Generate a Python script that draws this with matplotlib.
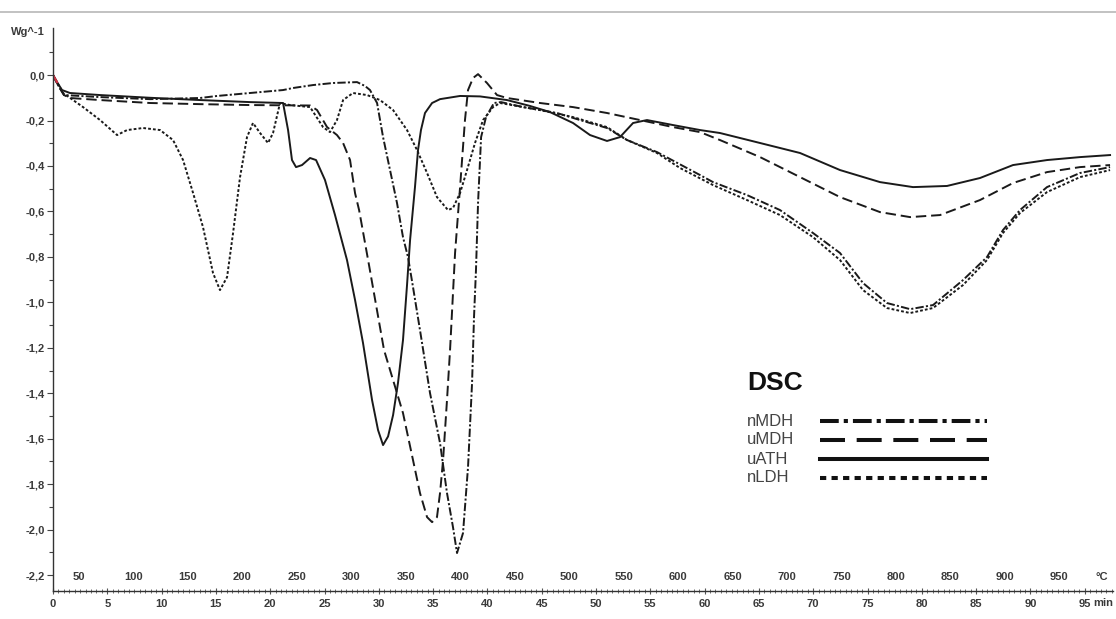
import matplotlib.pyplot as plt
import numpy as np
from matplotlib.lines import Line2D

plt.rcParams['font.family'] = ['Liberation Sans', 'DejaVu Sans']
plt.rcParams['lines.scale_dashes'] = False

# DSC curves, temperature in degC, heat flow in W/g
nmdh_T = [26.1, 30.7, 36.2, 69.3, 115.2, 161.1, 176.7, 207.0, 237.3, 246.5,
          264.8, 283.2, 305.2, 312.5, 317.1, 323.6, 329.1, 335.5, 341.9, 347.4,
          352.0, 356.6, 363.0, 372.2, 381.4, 387.8, 393.3, 397.0, 402.5, 407.1,
          410.8, 412.6, 414.4, 416.3, 419.1, 423.6, 430.9, 437.4, 457.6, 488.8,
          509.9, 534.7, 553.1, 580.6, 620.1, 632.0, 663.2, 693.5, 723.8, 748.6,
          769.7, 791.7, 812.9, 834.0, 861.5, 883.5, 898.2, 913.8, 938.6, 968.9,
          996.5]
nmdh_v = [0.0, -0.044, -0.088, -0.097, -0.106, -0.101, -0.092, -0.079, -0.066, -0.057,
          -0.044, -0.035, -0.031, -0.048, -0.066, -0.123, -0.273, -0.418, -0.563, -0.713,
          -0.801, -0.933, -1.122, -1.399, -1.619, -1.839, -1.989, -2.103, -2.015, -1.725,
          -1.355, -1.065, -0.858, -0.563, -0.273, -0.185, -0.123, -0.119, -0.141, -0.167,
          -0.198, -0.233, -0.286, -0.339, -0.440, -0.471, -0.528, -0.594, -0.695, -0.783,
          -0.915, -1.003, -1.030, -1.012, -0.902, -0.801, -0.682, -0.594, -0.493, -0.431,
          -0.405]

umdh_T = [26.1, 30.7, 36.2, 41.7, 69.3, 115.2, 161.1, 207.0, 262.1, 268.5,
          277.7, 286.8, 292.4, 298.8, 303.4, 307.1, 316.2, 330.0, 338.3, 347.4,
          356.6, 363.0, 369.5, 374.1, 378.6, 381.4, 384.2, 387.8, 390.6, 395.2,
          399.8, 404.3, 407.1, 411.7, 416.3, 424.5, 433.7, 442.9, 473.2, 503.5,
          534.7, 565.0, 595.3, 620.1, 638.4, 675.2, 711.9, 748.6, 785.3, 812.9,
          840.4, 877.1, 907.4, 938.6, 968.9, 996.5]
umdh_v = [0.0, -0.044, -0.088, -0.101, -0.110, -0.123, -0.128, -0.132, -0.134, -0.154,
          -0.229, -0.264, -0.299, -0.374, -0.520, -0.594, -0.836, -1.210, -1.342, -1.487,
          -1.694, -1.839, -1.945, -1.967, -1.945, -1.839, -1.694, -1.430, -1.210, -0.783,
          -0.493, -0.198, -0.066, -0.013, 0.004, -0.035, -0.088, -0.101, -0.123, -0.141,
          -0.167, -0.198, -0.229, -0.251, -0.286, -0.361, -0.449, -0.537, -0.603, -0.625,
          -0.616, -0.550, -0.475, -0.427, -0.405, -0.396]

ath_T = [26.1, 29.8, 34.4, 41.7, 69.3, 115.2, 161.1, 207.0, 237.3, 241.9,
         245.5, 249.2, 254.7, 262.1, 267.6, 275.8, 285.0, 296.0, 303.4, 310.7,
         319.0, 324.5, 329.1, 333.7, 338.3, 342.8, 347.4, 351.1, 353.9, 358.4,
         361.2, 363.9, 367.6, 374.1, 381.4, 399.8, 418.1, 442.9, 464.0, 482.4,
         503.5, 519.1, 534.7, 546.6, 558.6, 571.4, 595.3, 620.1, 638.4, 675.2,
         711.9, 748.6, 785.3, 815.6, 846.8, 877.1, 907.4, 938.6, 968.9, 996.5]
ath_v = [0.0, -0.031, -0.066, -0.079, -0.088, -0.100, -0.110, -0.119, -0.123, -0.242,
         -0.374, -0.405, -0.396, -0.365, -0.374, -0.462, -0.616, -0.814, -0.990, -1.179,
         -1.430, -1.562, -1.628, -1.590, -1.496, -1.355, -1.166, -0.924, -0.726, -0.493,
         -0.330, -0.242, -0.167, -0.123, -0.106, -0.092, -0.094, -0.110, -0.136, -0.163,
         -0.211, -0.264, -0.290, -0.273, -0.211, -0.198, -0.220, -0.242, -0.255, -0.299,
         -0.343, -0.418, -0.471, -0.493, -0.488, -0.453, -0.396, -0.374, -0.361, -0.352]

nldh_T = [26.1, 35.3, 53.7, 69.3, 84.9, 94.1, 108.8, 124.4, 136.3, 145.5,
          154.7, 163.8, 173.0, 179.4, 185.9, 191.4, 197.8, 204.2, 209.7, 216.2,
          223.5, 228.1, 234.5, 243.7, 262.1, 274.0, 280.4, 286.8, 292.4, 301.5,
          314.4, 326.3, 338.3, 351.1, 360.3, 369.5, 378.6, 388.7, 393.3, 399.8,
          406.2, 413.5, 420.9, 430.1, 436.5, 473.2, 503.5, 534.7, 553.1, 580.6,
          601.7, 632.0, 663.2, 693.5, 723.8, 748.6, 769.7, 791.7, 812.9, 834.0,
          861.5, 883.5, 898.2, 913.8, 938.6, 968.9, 996.5]
nldh_v = [0.0, -0.079, -0.141, -0.198, -0.264, -0.242, -0.233, -0.242, -0.286, -0.374,
          -0.519, -0.669, -0.871, -0.946, -0.889, -0.695, -0.449, -0.273, -0.211, -0.255,
          -0.299, -0.255, -0.123, -0.132, -0.141, -0.229, -0.251, -0.198, -0.110, -0.079,
          -0.088, -0.110, -0.154, -0.242, -0.330, -0.431, -0.537, -0.594, -0.585, -0.519,
          -0.418, -0.299, -0.198, -0.141, -0.123, -0.154, -0.185, -0.229, -0.286, -0.343,
          -0.409, -0.484, -0.550, -0.616, -0.713, -0.814, -0.946, -1.025, -1.047, -1.025,
          -0.924, -0.814, -0.695, -0.607, -0.515, -0.449, -0.418]

names = ['nMDH', 'uMDH', 'uATH', 'nLDH']
minutes = list(range(0, 100, 5))
temp_labels = list(range(50, 1000, 50))
y_ticks = [round(-0.2 * i, 1) for i in range(12)]
T_START = 26.1   # degC at t = 0
RATE = 9.97      # degC per min

curve_dashes = [(0, (6, 1.6, 1.5, 1.6)), (0, (7.5, 3.5)), '-', (0, (2, 1.5))]
legend_dashes = [(0, (13.5, 3.6, 3, 3.6)), (0, (18, 8.4)), '-', (0, (4.5, 3.8))]

lab = dict(fontsize=8, color='#3a3a3a', weight='bold')

W, H = 1116, 619
fig = plt.figure(figsize=(W / 100, H / 100), dpi=100)
ax = fig.add_axes([53 / W, 1 - 591 / H, (1113 - 53) / W, (591 - 28) / H])

series = [(nmdh_T, nmdh_v), (umdh_T, umdh_v), (ath_T, ath_v), (nldh_T, nldh_v)]
for (tx, ty), ls in zip(series, curve_dashes):
    ax.plot(tx, ty, color='#1a1a1a', lw=1.4, linestyle=ls)
# reddish start of the run
ax.plot(ath_T[:2], ath_v[:2], color='#cc3344', lw=1.6)

ax.set_xlim(26.1, 999.2)
ax.set_ylim(-2.27, 0.207)

for s in ['top', 'right']:
    ax.spines[s].set_visible(False)
for s in ['left', 'bottom']:
    ax.spines[s].set_color('#333333')
    ax.spines[s].set_linewidth(1.0)

ax.set_yticks(y_ticks)
ax.set_yticklabels([f"{v:.1f}".replace('.', ',') if v != 0 else '0,0' for v in y_ticks])
ax.set_yticks(np.arange(-2.1, 0.15, 0.2), minor=True)
ax.tick_params(axis='y', which='both', direction='out', color='#444444', pad=2)
ax.tick_params(axis='y', which='major', length=4, width=0.8)
ax.tick_params(axis='y', which='minor', length=3, width=0.8)

ax.set_xticks([T_START + RATE * m for m in minutes])
ax.set_xticklabels([str(m) for m in minutes])
ax.set_xticks([T_START + RATE * m * 0.5 for m in range(0, 196)], minor=True)
ax.tick_params(axis='x', which='both', direction='inout', color='#555555', pad=3)
ax.tick_params(axis='x', which='major', length=5, width=0.8)
ax.tick_params(axis='x', which='minor', length=3, width=0.6)
for tl in ax.get_xticklabels() + ax.get_yticklabels():
    tl.set_fontsize(lab['fontsize'])
    tl.set_color(lab['color'])
    tl.set_fontweight(lab['weight'])

xt = ax.get_xaxis_transform()
for t in temp_labels:
    ax.text(t, 0.025, str(t), transform=xt, ha='center', va='center', **lab)
ax.text(989, 0.025, '°C', transform=xt, ha='center', va='center', **lab)
ax.text(990, -0.0213, 'min', transform=xt, ha='center', va='center', **lab)

ax.text(-0.0075, 0.19, 'Wg^-1', transform=ax.get_yaxis_transform(),
        ha='right', va='center', **lab)

# top window border
fig.add_artist(Line2D([0, 1], [1 - 12 / H] * 2, transform=fig.transFigure,
                      color='#b8b8b8', lw=1.2))

# legend
fig.text(747 / W, 1 - 383 / H, 'DSC', fontsize=19, weight='bold',
         ha='left', va='center', color='#111111')
for name, ls, py in zip(names, legend_dashes, [421, 440, 459, 478]):
    fig.text(747 / W, 1 - py / H, name, fontsize=12, ha='left', va='center',
             color='#444444')
    fig.add_artist(Line2D([820 / W, 987 / W], [1 - py / H] * 2,
                          transform=fig.transFigure, color='#111111', lw=2.9,
                          linestyle=ls))

fig.savefig('out.png', dpi=100)
